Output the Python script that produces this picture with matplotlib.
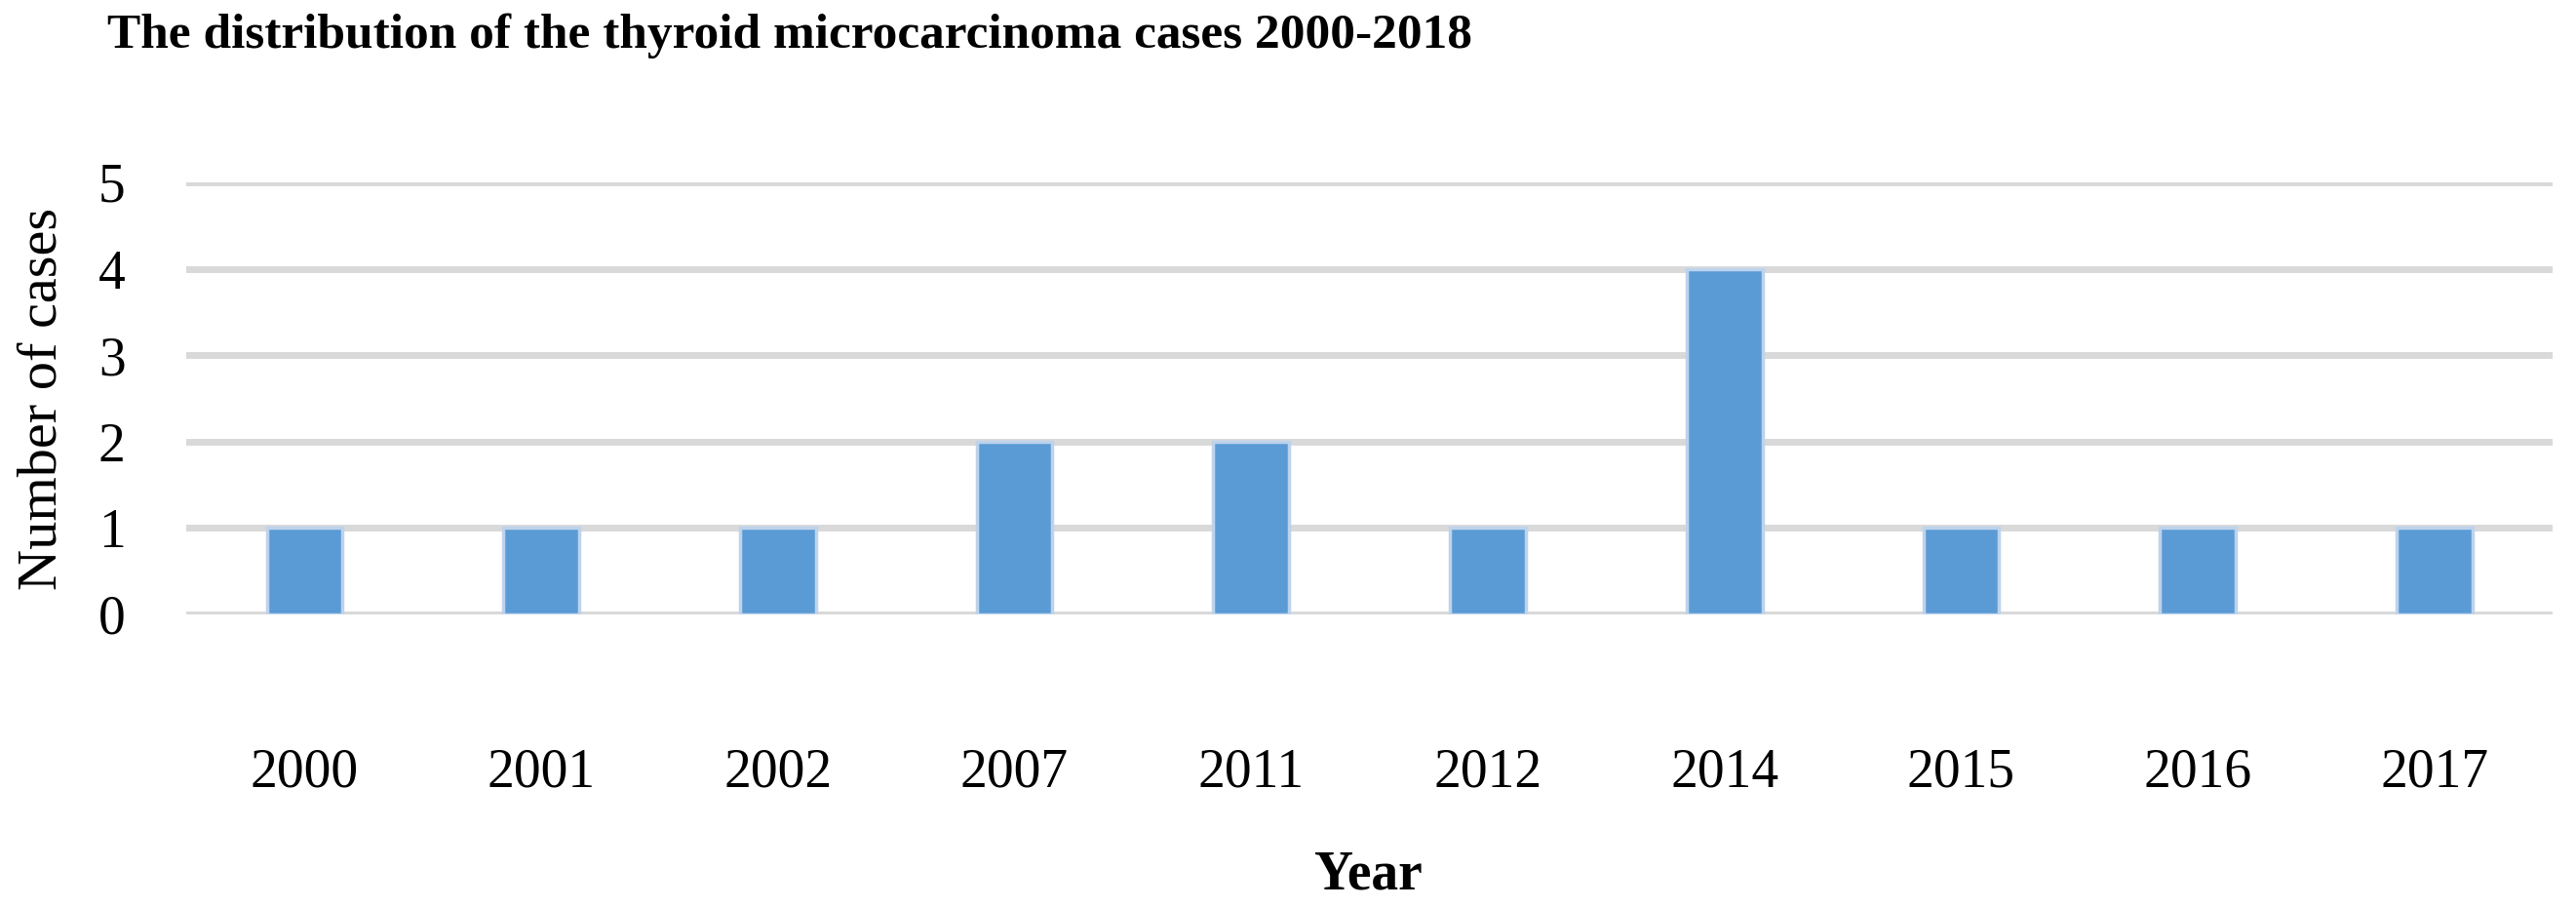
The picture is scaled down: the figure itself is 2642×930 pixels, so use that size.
import matplotlib
matplotlib.use("Agg")
from matplotlib import pyplot as plt
import numpy as np

years = ["2000", "2001", "2002", "2007", "2011", "2012", "2014", "2015", "2016", "2017"]
cases = [1, 1, 1, 2, 2, 1, 4, 1, 1, 1]
y_ticks = [0, 1, 2, 3, 4, 5]

plt.rcParams["font.family"] = ["Liberation Serif", "DejaVu Serif"]

fig = plt.figure(figsize=(26.42, 9.30), dpi=100)
ax = fig.add_axes([0.0723, 0.3226, 0.9187, 0.4764])

x = np.arange(len(years))
ax.bar(x, cases, width=0.32, color="#5B9BD5", edgecolor="#BDD3EC",
       linewidth=2.5, zorder=3)

ax.set_xlim(-0.5, len(years) - 0.5)
ax.set_ylim(0, 5)
ax.set_yticks(y_ticks)
ax.set_xticks(x)
ax.set_xticklabels(years)
ax.yaxis.grid(True, color="#D9D9D9", linewidth=5, zorder=0)
ax.set_axisbelow(True)
for s in ax.spines.values():
    s.set_visible(False)
ax.tick_params(axis="both", length=0, labelsize=40, colors="black")
ax.tick_params(axis="y", pad=45)
ax.tick_params(axis="x", pad=98)

ax.set_ylabel("Number of cases", fontsize=42)
ax.yaxis.set_label_coords(-0.050, 0.5)

fig.text(0.0416, 0.96, "The distribution of the thyroid microcarcinoma cases 2000-2018",
         fontsize=37, fontweight="bold", ha="left", va="center")
fig.text(0.531, 0.035, "Year", fontsize=40, fontweight="bold", ha="center", va="center")

fig.savefig("out.png", dpi=100)
